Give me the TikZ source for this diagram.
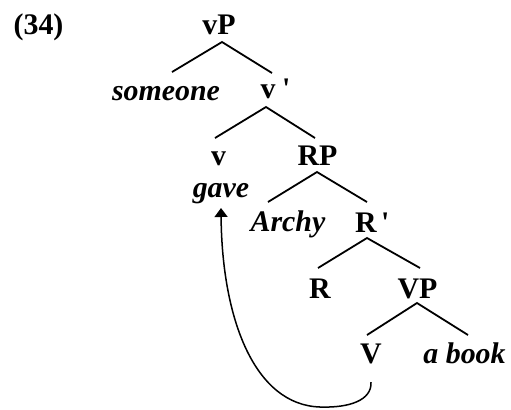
\documentclass[tikz,border=0pt]{standalone}
\usepackage{fontspec}
\setmainfont{Liberation Serif}
\usetikzlibrary{arrows.meta}
\begin{document}
\begin{tikzpicture}[x=1bp,y=-1bp,
  lab/.style={anchor=base,inner sep=0pt,font=\fontsize{30}{36}\selectfont\bfseries},
  wrd/.style={anchor=base,inner sep=0pt,font=\fontsize{30}{36}\selectfont\bfseries\itshape},
  br/.style={line width=1.8bp},
  mv/.style={line width=1.5bp,-{Triangle[length=9bp,width=13bp]}}]
\useasboundingbox (0,0) rectangle (511,409);
\node[lab] (ex) at (38.5,34) {(34)};
\node[lab] (vP) at (219,34) {vP};
\node[wrd] (someone) at (166,100) {someone};
\node[lab] (vbar) at (268,98) {v\rlap{\hspace{0.22em}\textquotesingle}};
\node[lab] (v) at (218.5,165) {v};
\node[wrd] (gave) at (221,197) {gave};
\node[lab] (RP) at (317.5,165) {RP};
\node[wrd] (Archy) at (288,231) {Archy};
\node[lab] (Rbar) at (366,232) {R\rlap{\hspace{0.15em}\textquotesingle}};
\node[lab] (R) at (320,298) {R};
\node[lab] (VP) at (417.5,298) {VP};
\node[lab] (V) at (371,363) {V};
\node[wrd] (abook) at (464.5,363) {a book};
\draw[br] ([shift={(6,-28)}]someone.base) -- ([shift={(3,8)}]vP.base) -- ([shift={(4,-25)}]vbar.base);
\draw[br] ([shift={(-3.5,-27)}]v.base) -- ([shift={(-2,9)}]vbar.base) -- ([shift={(-2.5,-27)}]RP.base);
\draw[br] ([shift={(-20,-29)}]Archy.base) -- ([shift={(-0.5,7)}]RP.base) -- ([shift={(1,-30)}]Rbar.base);
\draw[br] ([shift={(-2,-30)}]R.base) -- ([shift={(1,6)}]Rbar.base) -- ([shift={(2.5,-30)}]VP.base);
\draw[br] ([shift={(-4,-28)}]V.base) -- ([shift={(-0.5,5)}]VP.base) -- ([shift={(3.5,-28)}]abook.base);
\draw[mv] ([shift={(0,19)}]V.base) .. controls (372,400) and (350,408) .. (320,407)
  .. controls (255,405) and (222,320) .. ([shift={(0,11)}]gave.base);
\end{tikzpicture}
\end{document}
